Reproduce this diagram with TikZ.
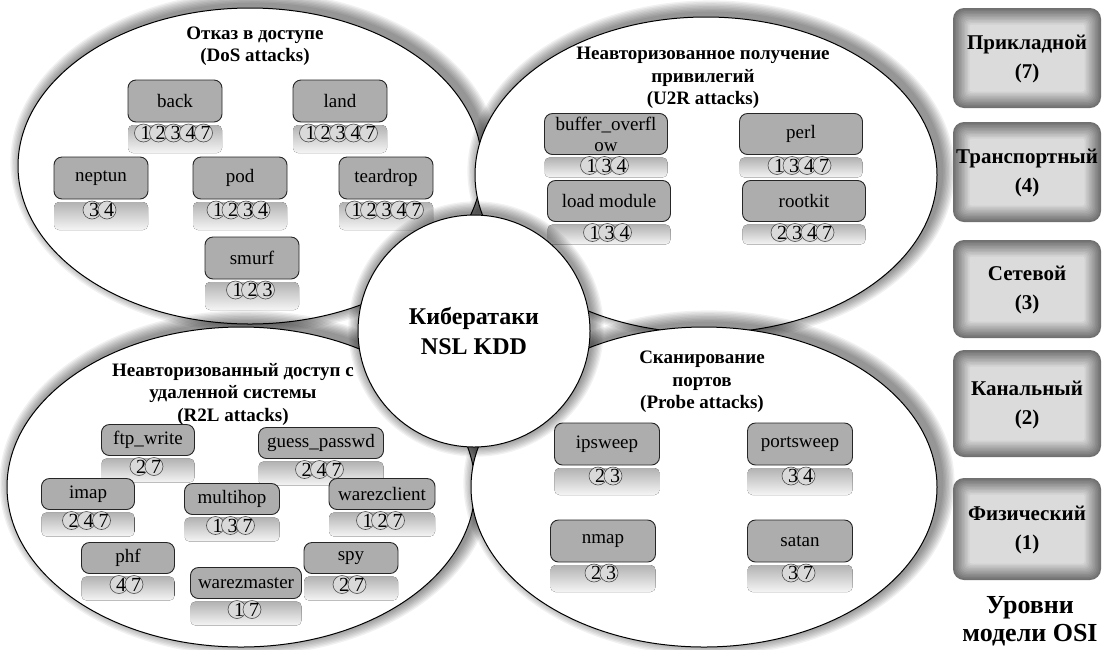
\documentclass[tikz,border=0pt]{standalone}
\usepackage{fontspec}
\setmainfont{Liberation Serif}
\usetikzlibrary{shapes.geometric}

\newcounter{ndig}

\tikzset{
  every node/.style={inner sep=0pt, outer sep=0pt},
  grp/.style={ellipse, draw=black, line width=1pt, fill=white},
  core/.style={circle, draw=black, line width=1pt, fill=white, align=center,
    font=\bfseries\fontsize{24}{30}\selectfont},
  grptitle/.style={align=center, font=\bfseries\fontsize{19}{22.5}\selectfont},
  atkbox/.style={draw=black!85, line width=0.9pt, fill=black!32, rounded corners=8pt,
    align=center, font=\fontsize{19}{21}\selectfont},
  stripfade/.style={top color=black!30, bottom color=black!4, rounded corners=5pt},
  numcirc/.style={draw=black!70, fill=black!15, line width=0.6pt},
  numdigit/.style={font=\fontsize{20}{20}\selectfont},
  ositext/.style={align=center, font=\bfseries\fontsize{21}{29}\selectfont},
  legend/.style={align=center, font=\bfseries\fontsize{26}{28}\selectfont},
}

% soft shadow behind a group ellipse: centre x, centre y, x radius, y radius
\newcommand\grpglow[4]{%
  \foreach \g in {1,...,9}{%
    \fill[black, opacity=0.055] (#1+5,#2-4) ellipse [x radius=#3+\g*1.4, y radius=#4+\g*1.4];
  }%
}

% attack box with its shaded strip and row of circled layer numbers
% #1 name, #2 x, #3 y, #4 width, #5 height, #6 label, #7 digits, #8 strip height
\newcommand\atk[8]{%
  \fill[stripfade] (#2-#4/2,#3+#5/2+3) rectangle (#2+#4/2,#3+#5/2+3+#8);
  \node[atkbox, minimum width=#4pt, minimum height=#5pt] (#1) at (#2,#3) {#6};
  \setcounter{ndig}{0}%
  \foreach \d in {#7}{\stepcounter{ndig}}%
  \foreach \d [count=\i] in {#7}{%
    \pgfmathsetmacro\xx{#2+(\i-(\thendig+1)/2)*15}
    \draw[numcirc] (\xx-1.5,#3+#5/2+11) circle [radius=9];
  }%
  \foreach \d [count=\i] in {#7}{%
    \pgfmathsetmacro\xx{#2+(\i-(\thendig+1)/2)*15}
    \node[numdigit] (#1-\i) at (\xx+0.5,#3+#5/2+11) {\d};
  }%
}

% OSI layer box with a soft inner gradient: name, top, bottom, line 1, line 2
\newcommand\osibox[5]{%
  \foreach \k in {0,...,11}{%
    \pgfmathsetmacro\ins{\k*1.5}
    \pgfmathsetmacro\shd{56-\k*3.8}
    \pgfmathsetmacro\rc{max(11-\k*0.8,2)}
    \fill[black!\shd, rounded corners=\rc pt] (953+\ins,#2+\ins) rectangle (1101-\ins,#3-\ins);
  }%
  \node[ositext] (#1) at (1027,{(#2+#3)/2+1}) {#4\\#5};
}

\begin{document}
\begin{tikzpicture}[x=1pt, y=-1pt]
\useasboundingbox[fill=white] (0,0) rectangle (1105,649);

% ---- DoS group ----
\grpglow{250}{166}{232}{158}
\node[grp, minimum width=464pt, minimum height=316pt] (dos) at (250,166) {};
\node[grptitle] (dosT) at (255,46) {Отказ в доступе\\(DoS attacks)};
\atk{back}{175}{101}{94}{42}{back}{1,2,3,4,7}{28}
\atk{land}{340}{101}{94}{42}{land}{1,2,3,4,7}{28}
\atk{neptun}{101}{178}{94}{42}{neptun}{3,4}{28}
\atk{pod}{240}{178}{94}{42}{pod}{1,2,3,4}{28}
\atk{teardrop}{386}{178}{94}{42}{teardrop}{1,2,3,4,7}{28}
\atk{smurf}{252}{258}{94}{42}{smurf}{1,2,3}{28}

% ---- U2R group ----
\grpglow{706}{175}{231}{158}
\node[grp, minimum width=462pt, minimum height=316pt] (u2r) at (706,175) {};
\node[grptitle] (u2rT) at (703,78) {Неавторизованное получение\\привилегий\\(U2R attacks)};
\atk{buffer}{606}{134}{123}{41}{buffer\_overfl\\ow}{1,3,4}{20}
\atk{perl}{801}{134}{123}{41}{perl}{1,3,4,7}{20}
\atk{loadmodule}{609}{201}{123}{41}{load module}{1,3,4}{20}
\atk{rootkit}{804}{201}{123}{41}{rootkit}{2,3,4,7}{20}

% ---- R2L group ----
\grpglow{241}{487}{234}{160}
\node[grp, minimum width=468pt, minimum height=320pt] (r2l) at (241,487) {};
\node[grptitle] (r2lT) at (233,394) {Неавторизованный доступ с\\удаленной системы\\(R2L attacks)};
\atk{ftpwrite}{148}{440}{93}{31}{ftp\_write}{2,7}{24}
\atk{guesspasswd}{321}{443}{125}{31}{guess\_passwd}{2,4,7}{24}
\atk{imap}{88}{494}{93}{31}{imap}{2,4,7}{24}
\atk{multihop}{232}{499}{95}{31}{multihop}{1,3,7}{24}
\atk{warezclient}{382}{494}{106}{31}{warezclient}{1,2,7}{24}
\atk{phf}{128}{558}{93}{31}{phf}{4,7}{24}
\atk{spy}{351}{558}{94}{31}{spy}{2,7}{24}
\atk{warezmaster}{246}{583}{111}{31}{warezmaster}{1,7}{24}

% ---- Probe group ----
\grpglow{704}{487}{233}{160}
\node[grp, minimum width=466pt, minimum height=320pt] (probe) at (704,487) {};
\node[grptitle] (probeT) at (702,382) {Сканирование\\портов\\(Probe attacks)};
\atk{ipsweep}{607}{444}{105}{42}{ipsweep}{2,3}{27}
\atk{portsweep}{800}{444}{105}{42}{portsweep}{3,4}{27}
\atk{nmap}{603}{541}{105}{42}{nmap}{2,3}{27}
\atk{satan}{800}{541}{105}{42}{satan}{3,7}{27}

% ---- central circle ----
\foreach \g in {1,...,9}{%
  \fill[black, opacity=0.05] (476,329) circle [radius=116+\g*1.3];
}
\node[core, minimum size=232pt] (kdd) at (474,331) {Кибератаки\\NSL KDD};

% ---- OSI layers ----
\osibox{osi7}{8}{108}{Прикладной}{(7)}
\osibox{osi4}{122}{222}{Транспортный}{(4)}
\osibox{osi3}{240}{338}{Сетевой}{(3)}
\osibox{osi2}{350}{457}{Канальный}{(2)}
\osibox{osi1}{478}{580}{Физический}{(1)}
\node[legend] (osiT) at (1030,621) {Уровни\\модели OSI};
\end{tikzpicture}
\end{document}
